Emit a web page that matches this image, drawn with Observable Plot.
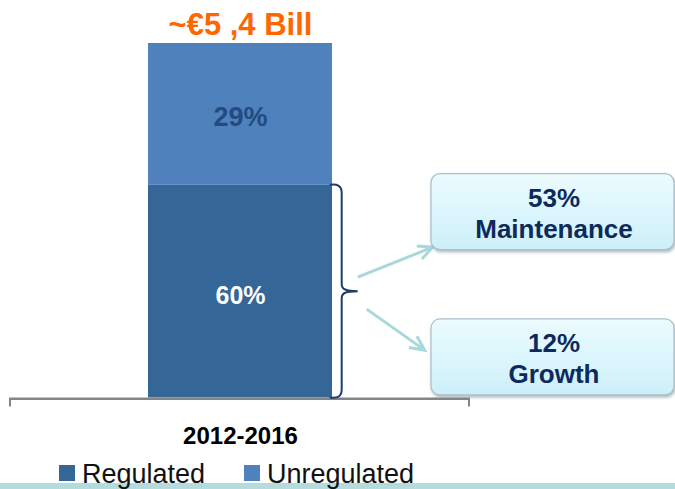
<!DOCTYPE html>
<html>
<head>
<meta charset="utf-8">
<script src="https://cdn.jsdelivr.net/npm/d3@7"></script>
<script src="https://cdn.jsdelivr.net/npm/@observablehq/plot@0.6"></script>
<style>
  html, body { margin: 0; padding: 0; background: #ffffff; }
  svg { display: block; }
</style>
</head>
<body>
<div id="chart"></div>
<script>
// ---- data ----
const period = "2012-2016";
const series = ["Regulated", "Unregulated"];
const segmentHeights = [60, 40];          // drawn heights of the stacked segments (as in picture)
const segmentLabels = ["60%", "29%"];     // printed labels
const totalLabel = "~€5 ,4 Bill";
const splitValues = [53, 12];
const splitPct = ["53%", "12%"];
const splitNames = ["Maintenance", "Growth"];
const seriesColors = ["#346698", "#4f81bd"];

// ---- layout ----
const W = 675, H = 489;
const M = {left: 9, right: 205, top: 43, bottom: 91.5};
const PAD = 0.4286;
const FONT = "'Liberation Sans', Arial, Helvetica, sans-serif";

const data = series.map((s, i) => ({period, series: s, value: segmentHeights[i], label: segmentLabels[i]}));
const total = d3.sum(segmentHeights);

const plot = Plot.plot({
  width: W, height: H,
  marginLeft: M.left, marginRight: M.right, marginTop: M.top, marginBottom: M.bottom,
  x: {domain: [period], padding: PAD, axis: null},
  y: {domain: [0, total], axis: null},
  color: {domain: series, range: seriesColors},
  style: {fontFamily: FONT, background: "white", overflow: "visible"},
  marks: [
    Plot.barY(data, {x: "period", y: "value", fill: "series"}),
    Plot.ruleY([0], {stroke: "#858585", strokeWidth: 2, dy: 1}),
    Plot.text(data, Plot.stackY({x: "period", y: "value",
      text: d => d.series === "Unregulated" ? d.label : "",
      fill: "#214b82", fontSize: 27, fontWeight: "bold", lineAnchor: "middle", dy: 3})),
    Plot.text(data, Plot.stackY({x: "period", y: "value",
      text: d => d.series === "Regulated" ? d.label : "",
      fill: "#ffffff", fontSize: 25, fontWeight: "bold", lineAnchor: "middle", dy: 4})),
    Plot.text([totalLabel], {x: () => period, y: () => total, text: d => d,
      fill: "#ff6600", fontSize: 31, fontWeight: "bold", lineAnchor: "middle", dy: -18}),
    Plot.text([period], {x: d => d, y: () => 0, text: d => d,
      fill: "#000000", fontSize: 24, fontWeight: "bold", lineAnchor: "middle", dy: 38})
  ]
});

document.getElementById("chart").appendChild(plot);

// ---- annotations using the plot's scales ----
const svg = d3.select(plot);
const ys = plot.scale("y");
const yScale = d3.scaleLinear(ys.domain, ys.range);
const xBand = d3.scaleBand([period], [M.left, W - M.right]).padding(PAD);
const colorScale = d3.scaleOrdinal(series, seriesColors);

const defs = svg.insert("defs", ":first-child");
const grad = defs.append("linearGradient").attr("id", "boxGrad")
  .attr("x1", 0).attr("y1", 0).attr("x2", 0).attr("y2", 1);
grad.append("stop").attr("offset", "0%").attr("stop-color", "#ecfbfe");
grad.append("stop").attr("offset", "50%").attr("stop-color", "#dcf6fd");
grad.append("stop").attr("offset", "100%").attr("stop-color", "#cdeff9");
const filt = defs.append("filter").attr("id", "boxShadow")
  .attr("x", "-10%").attr("y", "-10%").attr("width", "130%").attr("height", "140%");
filt.append("feDropShadow").attr("dx", 1).attr("dy", 2).attr("stdDeviation", 1.5)
  .attr("flood-color", "#6b7f8c").attr("flood-opacity", 0.55);

const g = svg.append("g");

// axis end ticks
const axY = yScale(0) + 1;
g.append("path")
  .attr("d", `M${M.left + 1},${axY + 8}V${axY}H${W - M.right - 1}V${axY + 8}`)
  .attr("fill", "none").attr("stroke", "#858585").attr("stroke-width", 2);

// bracket beside the Regulated segment
const barRight = xBand(period) + xBand.bandwidth();
const yTop = yScale(segmentHeights[0]), yBot = yScale(0), yMid = yScale(segmentHeights[0] / 2);
const bx = barRight + 10, tipX = barRight + 26;
g.append("path")
  .attr("d", `M${barRight - 2},${yTop} C${bx - 4},${yTop - 1} ${bx},${yTop + 1} ${bx},${yTop + 8}
    L${bx},${yMid - 7} C${bx},${yMid - 2} ${bx + 4},${yMid} ${tipX},${yMid}
    C${bx + 4},${yMid} ${bx},${yMid + 2} ${bx},${yMid + 7}
    L${bx},${yBot - 8} C${bx},${yBot - 1} ${bx - 4},${yBot + 1} ${barRight - 2},${yBot}`)
  .attr("fill", "none").attr("stroke", "#1d3c6c").attr("stroke-width", 2);

// arrows
function arrow(x1, y1, x2, y2) {
  const a = Math.atan2(y2 - y1, x2 - x1), L = 16, s = 0.45;
  const p1 = [x2 - L * Math.cos(a - s), y2 - L * Math.sin(a - s)];
  const p2 = [x2 - L * Math.cos(a + s), y2 - L * Math.sin(a + s)];
  g.append("path")
    .attr("d", `M${x1},${y1}L${x2},${y2}M${p1[0]},${p1[1]}L${x2},${y2}L${p2[0]},${p2[1]}`)
    .attr("fill", "none").attr("stroke", "#a8d8dc").attr("stroke-width", 3)
    .attr("stroke-linecap", "butt").attr("stroke-linejoin", "miter");
}
arrow(tipX, yMid - 14, tipX + 75, yMid - 44);
arrow(tipX + 9, yMid + 18, tipX + 67, yMid + 59);

// split boxes
const boxX = 431, boxW = 243, boxH = 76, textX = 554;
splitValues.forEach((v, i) => {
  const cy = yScale(v) + 2;
  g.append("rect")
    .attr("x", boxX).attr("y", cy - boxH / 2).attr("width", boxW).attr("height", boxH)
    .attr("rx", 9).attr("ry", 9)
    .attr("fill", "url(#boxGrad)").attr("stroke", "#a9c0cc").attr("stroke-width", 1.2)
    .attr("filter", "url(#boxShadow)");
  const t = g.append("text").attr("text-anchor", "middle")
    .attr("font-family", FONT).attr("font-weight", "bold").attr("font-size", 26)
    .attr("fill", "#0e2a5c");
  t.append("tspan").attr("x", textX).attr("y", cy - 4.5).text(splitPct[i]);
  t.append("tspan").attr("x", textX).attr("y", cy + 26.5).text(splitNames[i]);
});

// bottom teal band
g.append("rect").attr("x", 0).attr("y", 483).attr("width", W).attr("height", 6).attr("fill", "#b4dcdf");

// legend
const legendX = [59, 244];
series.forEach((s, i) => {
  g.append("rect").attr("x", legendX[i]).attr("y", 465).attr("width", 16).attr("height", 16)
    .attr("fill", colorScale(s));
  g.append("text").attr("x", legendX[i] + 23).attr("y", 483)
    .attr("text-anchor", "start")
    .attr("font-family", FONT).attr("font-size", 27).attr("fill", "#111")
    .text(s);
});
</script>
</body>
</html>
